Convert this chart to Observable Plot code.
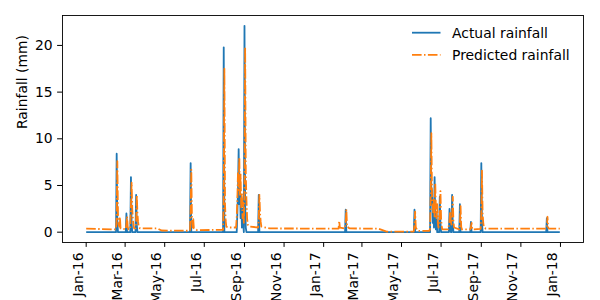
<!DOCTYPE html>
<html>
<head>
<meta charset="utf-8">
<script src="https://cdn.jsdelivr.net/npm/d3@7"></script>
<script src="https://cdn.jsdelivr.net/npm/@observablehq/plot@0.6"></script>
<style>
  html, body { margin: 0; padding: 0; background: white; }
  #wrap { position: relative; width: 600px; height: 300px; overflow: hidden; font-family: "DejaVu Sans", sans-serif; }
  #legend { position: absolute; left: 0; top: 0; pointer-events: none; }
</style>
</head>
<body>
<div id="wrap"></div>
<script>
// ---- Data ----
const actualDates = [
  "2016-01-01",
  "2016-02-16","2016-02-17","2016-02-18","2016-02-19",
  "2016-03-02","2016-03-03","2016-03-04",
  "2016-03-09","2016-03-10","2016-03-11","2016-03-12",
  "2016-03-17","2016-03-18","2016-03-19","2016-03-20",
  "2016-06-09","2016-06-10","2016-06-11",
  "2016-07-30","2016-07-31","2016-08-01",
  "2016-08-20","2016-08-21","2016-08-22","2016-08-23","2016-08-24","2016-08-25","2016-08-26","2016-08-27",
  "2016-08-28","2016-08-29","2016-08-30","2016-08-31","2016-09-01","2016-09-02","2016-09-03","2016-09-04",
  "2016-09-22","2016-09-23","2016-09-24",
  "2017-02-03","2017-02-04","2017-02-05",
  "2017-05-20","2017-05-21","2017-05-22",
  "2017-06-14","2017-06-15","2017-06-16","2017-06-17","2017-06-18","2017-06-19",
  "2017-06-20","2017-06-21","2017-06-22","2017-06-23","2017-06-24","2017-06-25",
  "2017-06-28","2017-06-29","2017-06-30","2017-07-01",
  "2017-07-13","2017-07-14","2017-07-15","2017-07-16",
  "2017-07-17","2017-07-18","2017-07-19","2017-07-20",
  "2017-07-29","2017-07-30","2017-07-31",
  "2017-08-15","2017-08-16","2017-08-17",
  "2017-08-31","2017-09-01","2017-09-02","2017-09-03",
  "2017-12-10","2017-12-11","2017-12-12",
  "2017-12-31"
];
const actualMm = [
  0,
  0, 8.4, 1.2, 0,
  0, 2.0, 0,
  0, 5.9, 1.0, 0,
  0, 4.0, 0.8, 0,
  0, 7.4, 0,
  0, 19.8, 0,
  0, 2.0, 4.5, 8.9, 3.0, 5.5, 1.5, 3.8,
  0.5, 2.5, 1.0, 0, 22.1, 3.0, 0.5, 0,
  0, 4.0, 0,
  0, 2.4, 0,
  0, 2.4, 0,
  0, 12.2, 3.0, 4.5, 1.0, 2.5,
  0.5, 5.9, 1.5, 0.3, 2.0, 0,
  0, 3.8, 1.0, 0,
  0, 2.5, 0.5, 0,
  0, 4.0, 1.0, 0,
  0, 3.0, 0,
  0, 1.1, 0,
  0, 7.4, 1.0, 0,
  0, 1.5, 0,
  0
];

const predictedDates = [
  "2016-01-01","2016-02-10","2016-02-16","2016-02-17","2016-02-18","2016-02-19","2016-02-20","2016-02-21","2016-02-22","2016-02-23",
  "2016-03-02","2016-03-03","2016-03-04","2016-03-05","2016-03-06",
  "2016-03-09","2016-03-10","2016-03-11","2016-03-12","2016-03-13","2016-03-14","2016-03-15",
  "2016-03-17","2016-03-18","2016-03-19","2016-03-20","2016-03-21","2016-03-22","2016-03-24",
  "2016-04-20","2016-04-26","2016-06-08",
  "2016-06-09","2016-06-10","2016-06-11","2016-06-12","2016-06-13","2016-06-14","2016-06-15","2016-06-20",
  "2016-07-30","2016-07-31","2016-08-01","2016-08-02","2016-08-03","2016-08-04","2016-08-07",
  "2016-08-19","2016-08-20","2016-08-21","2016-08-22","2016-08-23","2016-08-24","2016-08-25","2016-08-26",
  "2016-08-27","2016-08-28","2016-08-29","2016-08-30","2016-08-31","2016-09-01","2016-09-02","2016-09-03",
  "2016-09-04","2016-09-05","2016-09-06","2016-09-09",
  "2016-09-22","2016-09-23","2016-09-24","2016-09-25","2016-09-26","2016-09-27","2016-10-10",
  "2017-01-24","2017-01-25","2017-01-26",
  "2017-02-03","2017-02-04","2017-02-05","2017-02-06","2017-02-10",
  "2017-03-26","2017-04-08","2017-05-19",
  "2017-05-20","2017-05-21","2017-05-22","2017-05-23","2017-05-26",
  "2017-06-13","2017-06-14","2017-06-15","2017-06-16","2017-06-17","2017-06-18","2017-06-19","2017-06-20",
  "2017-06-21","2017-06-22","2017-06-23","2017-06-24","2017-06-25","2017-06-26","2017-06-27","2017-06-28",
  "2017-06-29","2017-06-30","2017-07-01","2017-07-02","2017-07-03",
  "2017-07-12","2017-07-14","2017-07-15","2017-07-16","2017-07-17","2017-07-18","2017-07-19","2017-07-20","2017-07-21",
  "2017-07-29","2017-07-30","2017-07-31","2017-08-01","2017-08-02",
  "2017-08-15","2017-08-16","2017-08-17","2017-08-18",
  "2017-08-31","2017-09-01","2017-09-02","2017-09-03","2017-09-04","2017-09-05","2017-09-08",
  "2017-12-10","2017-12-11","2017-12-12","2017-12-13","2017-12-14","2017-12-31"
];
const predictedMm = [
  0.38, 0.3, 0.3, 1.5, 7.6, 2.0, 0.8, 0.6, 1.6, 0.4,
  0.3, 0.9, 1.7, 0.6, 0.3,
  0.35, 3.0, 5.3, 2.5, 1.4, 0.7, 0.4,
  0.4, 1.2, 4.0, 2.0, 1.1, 0.6, 0.4,
  0.4, 0.18, 0.15,
  0.2, 2.5, 6.7, 1.5, 0.5, 1.4, 0.4, 0.22,
  0.25, 4.0, 17.5, 3.0, 1.2, 0.6, 0.5,
  0.5, 1.5, 3.5, 6.5, 4.5, 8.0, 4.0, 6.2,
  2.5, 4.2, 1.5, 3.2, 1.0, 5.0, 19.8, 6.2,
  3.5, 1.5, 0.8, 0.6,
  0.5, 1.5, 4.0, 2.0, 1.1, 0.6, 0.4,
  0.38, 1.2, 0.5,
  0.4, 1.0, 2.45, 0.6, 0.4,
  0.38, 0.06, 0.05,
  0.1, 0.8, 2.2, 0.5, 0.15,
  0.15, 0.4, 4.0, 10.6, 4.0, 3.0, 2.0, 3.5,
  1.5, 5.3, 2.5, 1.5, 3.0, 1.0, 0.5, 0.8,
  2.0, 4.4, 1.5, 0.6, 0.3,
  0.3, 1.2, 2.2, 1.2, 0.8, 1.5, 3.8, 1.2, 0.5,
  0.3, 1.0, 2.8, 0.6, 0.3,
  0.3, 0.6, 1.0, 0.3,
  0.35, 2.0, 6.6, 2.0, 1.0, 0.5, 0.38,
  0.38, 0.6, 1.65, 0.5, 0.38, 0.38
];

const xTickDates = [
  "2016-01-01","2016-03-01","2016-05-01","2016-07-01","2016-09-01","2016-11-01",
  "2017-01-01","2017-03-01","2017-05-01","2017-07-01","2017-09-01","2017-11-01","2018-01-01"
];
const yTicks = [0, 5, 10, 15, 20];
const yLabel = "Rainfall (mm)";
const seriesNames = ["Actual rainfall", "Predicted rainfall"];
const seriesColors = ["#1f77b4", "#ff7f0e"];

// ---- Build tables ----
const actual = actualDates.map((d, i) => ({date: new Date(d), mm: actualMm[i]}));
const predicted = predictedDates.map((d, i) => ({date: new Date(d), mm: predictedMm[i]}));
const xTicks = xTickDates.map(d => new Date(d));

// matplotlib-like 5% margins
const allDates = actual.concat(predicted).map(d => +d.date);
const x0 = d3.min(allDates), x1 = d3.max(allDates), xs = x1 - x0;
const yMin = Math.min(0, d3.min(actualMm), d3.min(predictedMm));
const yMax = Math.max(d3.max(actualMm), d3.max(predictedMm));
const ys = yMax - yMin;

const fmt = d3.utcFormat("%b-%y");
const FS = 13.9;
const LW = 1.8;
const dashDot = "9.6,2.4,1.5,2.4";

const chart = Plot.plot({
  width: 600,
  height: 300,
  marginLeft: 62,
  marginRight: 17,
  marginTop: 15,
  marginBottom: 58,
  style: {fontFamily: "DejaVu Sans", fontSize: FS + "px", background: "white", color: "black", overflow: "visible"},
  x: {type: "utc", domain: [new Date(x0 - 0.05 * xs), new Date(x1 + 0.05 * xs)]},
  y: {domain: [yMin - 0.05 * ys, yMax + 0.05 * ys]},
  marks: [
    Plot.line(actual, {x: "date", y: "mm", stroke: seriesColors[0], strokeWidth: LW, strokeLinecap: "butt", strokeLinejoin: "round"}),
    Plot.line(predicted, {x: "date", y: "mm", stroke: seriesColors[1], strokeWidth: LW, strokeDasharray: dashDot, strokeLinecap: "butt", strokeLinejoin: "round"}),
    Plot.frame({stroke: "black", strokeWidth: 0.9}),
    Plot.axisY({ticks: yTicks, tickSize: 4.9, tickPadding: 4.9, label: null, stroke: "black"}),
    Plot.axisX({ticks: xTicks, tickSize: 4.9, tickFormat: () => "", label: null, stroke: "black"}),
    Plot.text(xTicks, {x: d => d, text: d => fmt(d), frameAnchor: "bottom", rotate: -90, textAnchor: "end", lineAnchor: "middle", dy: 10, dx: -8, fill: "black"}),
    Plot.text([yLabel], {text: d => d, frameAnchor: "left", rotate: -90, dx: -40, fill: "black"})
  ]
});

const wrap = document.getElementById("wrap");
wrap.appendChild(chart);

// ---- Legend (overlay, upper right inside the axes) ----
const ns = "http://www.w3.org/2000/svg";
const leg = document.createElementNS(ns, "svg");
leg.setAttribute("id", "legend");
leg.setAttribute("width", 600);
leg.setAttribute("height", 300);
const rows = [32.7, 54.8];
seriesNames.forEach((name, i) => {
  const ln = document.createElementNS(ns, "line");
  ln.setAttribute("x1", 412); ln.setAttribute("x2", 440.5);
  ln.setAttribute("y1", rows[i]); ln.setAttribute("y2", rows[i]);
  ln.setAttribute("stroke", seriesColors[i]);
  ln.setAttribute("stroke-width", LW);
  if (i === 1) ln.setAttribute("stroke-dasharray", dashDot);
  leg.appendChild(ln);
  const t = document.createElementNS(ns, "text");
  t.setAttribute("x", 452);
  t.setAttribute("y", rows[i]);
  t.setAttribute("dy", "0.36em");
  t.setAttribute("font-family", "DejaVu Sans");
  t.setAttribute("font-size", FS);
  t.setAttribute("fill", "black");
  t.textContent = name;
  leg.appendChild(t);
});
wrap.appendChild(leg);
</script>
</body>
</html>
